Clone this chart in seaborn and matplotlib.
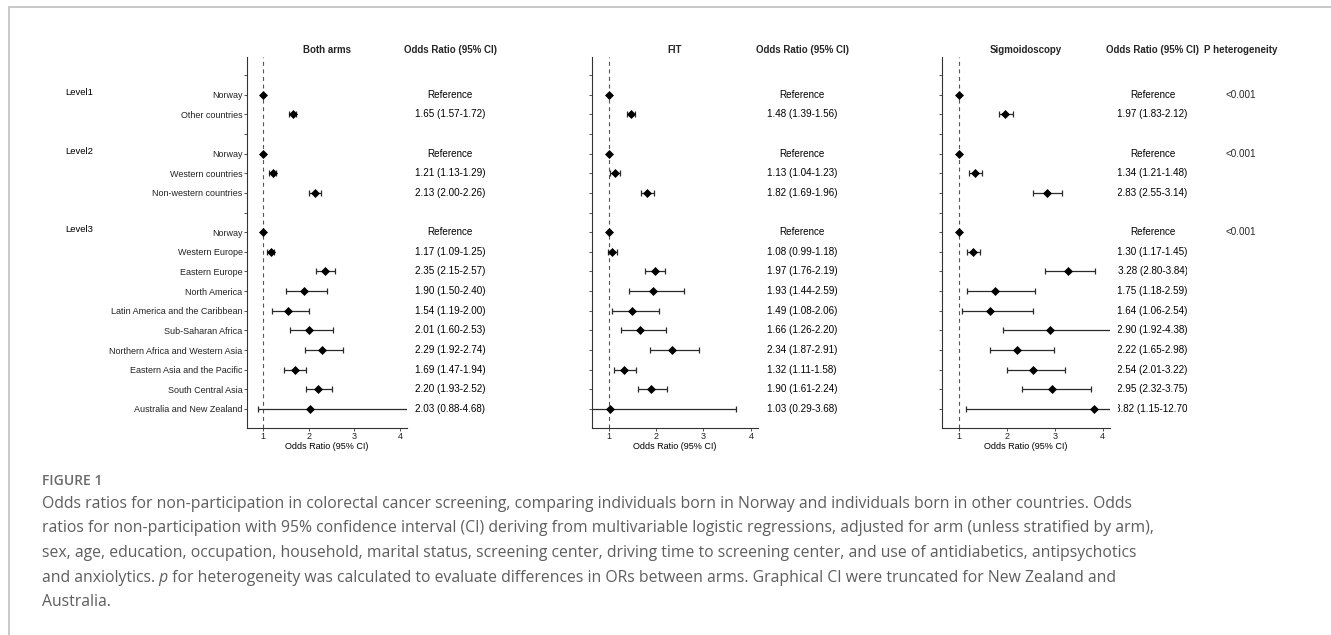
import numpy as np
import pandas as pd
import matplotlib
matplotlib.use("Agg")
import matplotlib.pyplot as plt
import matplotlib.transforms as mtransforms
from matplotlib.lines import Line2D
import seaborn as sns

# ---- data ----
countries = ["Norway", "Other countries",
             "Norway", "Western countries", "Non-western countries",
             "Norway", "Western Europe", "Eastern Europe", "North America",
             "Latin America and the Caribbean", "Sub-Saharan Africa",
             "Northern Africa and Western Asia", "Eastern Asia and the Pacific",
             "South Central Asia", "Australia and New Zealand"]
groups = ["Level1"] * 2 + ["Level2"] * 3 + ["Level3"] * 10

nan = np.nan
both_or = [1.00, 1.65, 1.00, 1.21, 2.13, 1.00, 1.17, 2.35, 1.90, 1.54, 2.01, 2.29, 1.69, 2.20, 2.03]
both_lo = [nan, 1.57, nan, 1.13, 2.00, nan, 1.09, 2.15, 1.50, 1.19, 1.60, 1.92, 1.47, 1.93, 0.88]
both_hi = [nan, 1.72, nan, 1.29, 2.26, nan, 1.25, 2.57, 2.40, 2.00, 2.53, 2.74, 1.94, 2.52, 4.68]

fit_or = [1.00, 1.48, 1.00, 1.13, 1.82, 1.00, 1.08, 1.97, 1.93, 1.49, 1.66, 2.34, 1.32, 1.90, 1.03]
fit_lo = [nan, 1.39, nan, 1.04, 1.69, nan, 0.99, 1.76, 1.44, 1.08, 1.26, 1.87, 1.11, 1.61, 0.29]
fit_hi = [nan, 1.56, nan, 1.23, 1.96, nan, 1.18, 2.19, 2.59, 2.06, 2.20, 2.91, 1.58, 2.24, 3.68]

sig_or = [1.00, 1.97, 1.00, 1.34, 2.83, 1.00, 1.30, 3.28, 1.75, 1.64, 2.90, 2.22, 2.54, 2.95, 3.82]
sig_lo = [nan, 1.83, nan, 1.21, 2.55, nan, 1.17, 2.80, 1.18, 1.06, 1.92, 1.65, 2.01, 2.32, 1.15]
sig_hi = [nan, 2.12, nan, 1.48, 3.14, nan, 1.45, 3.84, 2.59, 2.54, 4.38, 2.98, 3.22, 3.75, 12.70]

p_het = {"Level1": "<0.001", "Level2": "<0.001", "Level3": "<0.001"}

arm_titles = ["Both arms", "FIT", "Sigmoidoscopy"]
x_ticks = [1, 2, 3, 4]

caption_lines = [
    "Odds ratios for non-participation in colorectal cancer screening, comparing individuals born in Norway and individuals born in other countries. Odds",
    "ratios for non-participation with 95% confidence interval (CI) deriving from multivariable logistic regressions, adjusted for arm (unless stratified by arm),",
    "sex, age, education, occupation, household, marital status, screening center, driving time to screening center, and use of antidiabetics, antipsychotics",
    None,
    "Australia.",
]

# ---- build table: one blank row before each group ----
df = pd.DataFrame({"country": countries, "group": groups})
group_order = list(dict.fromkeys(groups))
df["row"] = np.arange(len(df)) + 1 + df["group"].map(lambda g: group_order.index(g) + 1)
n_rows = int(df["row"].max())
tick_rows = np.arange(1, n_rows + 1)
tick_labels = [""] * n_rows
for r, c in zip(df["row"], df["country"]):
    tick_labels[r - 1] = c

arms = [(both_or, both_lo, both_hi), (fit_or, fit_lo, fit_hi), (sig_or, sig_lo, sig_hi)]

# ---- style ----
sns.set_theme(style="ticks")
plt.rcParams["font.family"] = ["Liberation Sans", "DejaVu Sans"]
plt.rcParams["axes.linewidth"] = 0.8

W, H = 1331, 635
fig = plt.figure(figsize=(W / 100, H / 100), dpi=100)


def px_axes(x0, x1, y0, y1):
    return fig.add_axes([x0 / W, 1 - y1 / H, (x1 - x0) / W, (y1 - y0) / H])


panel_x = [(247, 407), (592, 758), (942, 1110)]
text_x = [(405, 495), (757, 847), (1118, 1187)]
y_top, y_bot = 57, 428
ylim = (n_rows + 0.97, 0.08)
axis_col = "#333333"

plot_axes = []
for k, ((x0, x1), (orv, lo, hi)) in enumerate(zip(panel_x, arms)):
    ax = px_axes(x0, x1, y_top, y_bot)
    d = df.copy()
    d["or"] = orv
    d["lo"] = lo
    d["hi"] = hi
    ax.axvline(1, color="#555555", lw=0.8, ls=(0, (3.6, 3.2)), zorder=1)
    ci = d.dropna(subset=["lo"])
    ax.errorbar(ci["or"], ci["row"], xerr=[ci["or"] - ci["lo"], ci["hi"] - ci["or"]],
                fmt="none", ecolor="#2a2a2a", elinewidth=0.9, capsize=2.3, capthick=0.9, zorder=2)
    sns.scatterplot(data=d, x="or", y="row", marker="D", s=21, color="black",
                    edgecolor="black", linewidth=0, ax=ax, zorder=3, legend=False)
    ax.set_xlim(0.65, 4.15)
    ax.set_ylim(*ylim)
    ax.set_xticks(x_ticks)
    ax.set_yticks(tick_rows)
    ax.set_yticklabels(tick_labels if k == 0 else [""] * n_rows)
    ax.set_xlabel("Odds Ratio (95% CI)", fontsize=6.5, labelpad=0.5, color="black")
    ax.set_ylabel("")
    ax.set_title(arm_titles[k], fontsize=7, fontweight="bold", pad=3)
    sns.despine(ax=ax)
    for sp in ("left", "bottom"):
        ax.spines[sp].set_color(axis_col)
        ax.spines[sp].set_linewidth(0.8)
    ax.tick_params(axis="both", length=2.2, width=0.6, color=axis_col, labelsize=6.5,
                   labelcolor="#222222", pad=1)
    plot_axes.append(ax)

    # text column with OR (95% CI)
    tx0, tx1 = text_x[k]
    tax = px_axes(tx0, tx1, y_top, y_bot)
    tax.set_xlim(0, 1)
    tax.set_ylim(*ylim)
    tax.axis("off")
    tax.set_title("Odds Ratio (95% CI)", fontsize=7, fontweight="bold", pad=3)
    for r, o, l, h in zip(d["row"], d["or"], d["lo"], d["hi"]):
        s = "Reference" if np.isnan(l) else f"{o:.2f} ({l:.2f}-{h:.2f})"
        tax.text(0.5, r, s, ha="center", va="center", fontsize=7.1, color="black",
                 clip_on=(k == 2))

# P heterogeneity column
pax = px_axes(1210, 1272, y_top, y_bot)
pax.set_xlim(0, 1)
pax.set_ylim(*ylim)
pax.axis("off")
pax.set_title("P heterogeneity", fontsize=7, fontweight="bold", pad=3)
first_rows = df.groupby("group", sort=False)["row"].min()
for g, r in first_rows.items():
    pax.text(0.5, r, p_het[g], ha="center", va="center", fontsize=7.1)

# Level labels at the far left
trans = mtransforms.blended_transform_factory(fig.transFigure, plot_axes[0].transData)
for g, r in first_rows.items():
    plot_axes[0].text(65 / W, r - 0.12, g, transform=trans, ha="left", va="center",
                      fontsize=6.8, color="black")

# page frame lines
fig.add_artist(Line2D([9 / W, 1], [1 - 7 / H, 1 - 7 / H], transform=fig.transFigure,
                      color="#c4c4c4", lw=1.3))
fig.add_artist(Line2D([9 / W, 9 / W], [0, 1 - 7 / H], transform=fig.transFigure,
                      color="#c4c4c4", lw=1.3))

# caption
cap_font = ["Open Sans", "DejaVu Sans"]
cap_col = "#5e5e5e"
cap_size = 11.3
bg = fig.add_axes([0, 0, 1, 1])
bg.axis("off")
bg.set_xlim(0, W)
bg.set_ylim(H, 0)
bg.text(42, 481, "FIGURE 1", family=cap_font, fontsize=10, fontweight="semibold",
        color="#6a6a6a", va="center", ha="left")
line_y = [504, 528.5, 553, 577.5, 602]
for y, line in zip(line_y, caption_lines):
    if line is not None:
        bg.text(42, y, line, family=cap_font, fontsize=cap_size, color=cap_col,
                va="center", ha="left")
t1 = bg.text(42, line_y[3], "and anxiolytics.", family=cap_font, fontsize=cap_size,
             color=cap_col, va="center", ha="left")
t2 = bg.annotate(" p", xy=(1, 0), xycoords=t1, va="bottom", ha="left", family=cap_font,
                 fontsize=cap_size, color=cap_col, style="italic")
bg.annotate(" for heterogeneity was calculated to evaluate differences in ORs between arms. "
            "Graphical CI were truncated for New Zealand and",
            xy=(1, 0), xycoords=t2, va="bottom", ha="left", family=cap_font,
            fontsize=cap_size, color=cap_col)

fig.savefig("out.png", dpi=100)
